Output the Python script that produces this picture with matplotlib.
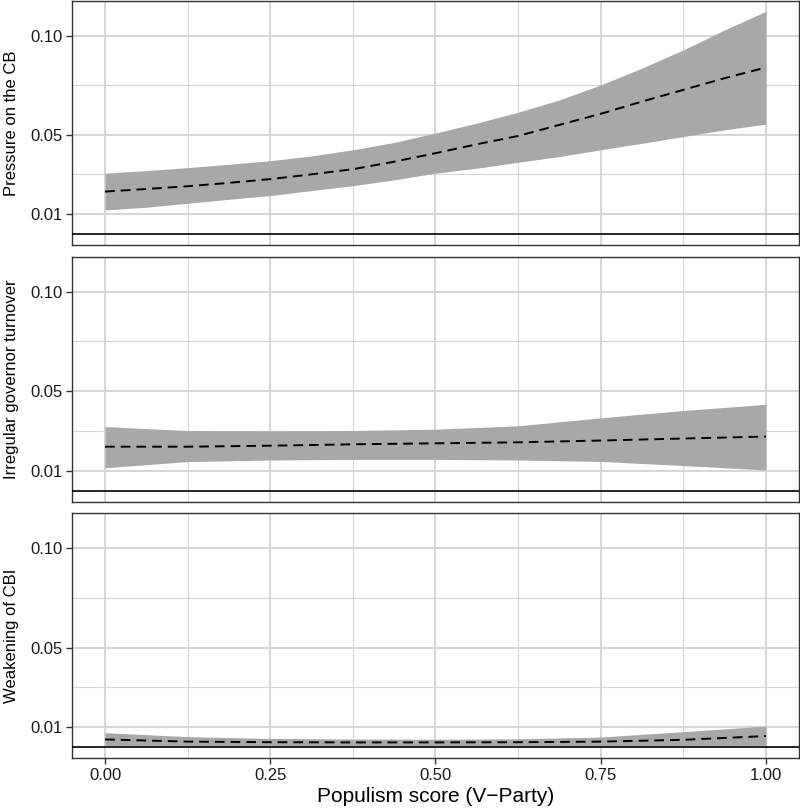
import matplotlib
matplotlib.use("Agg")
import matplotlib.pyplot as plt
from matplotlib.ticker import FixedLocator

plt.rcParams['font.family'] = ['Liberation Sans', 'DejaVu Sans']
plt.rcParams['lines.scale_dashes'] = False

# ---- data ----
x_fine = [0.0, 0.0625, 0.125, 0.1875, 0.25, 0.3125, 0.375, 0.4375, 0.5,
          0.5625, 0.625, 0.6875, 0.75, 0.8125, 0.875, 0.9375, 1.0]
x_vals = [0.0, 0.125, 0.25, 0.375, 0.5, 0.625, 0.75, 0.875, 1.0]

pressure_mean = [0.0213, 0.0226, 0.0240, 0.0257, 0.0276, 0.0300, 0.0326, 0.0364, 0.0407,
                 0.0452, 0.0494, 0.0550, 0.0606, 0.0668, 0.0727, 0.0786, 0.0840]
pressure_upper = [0.0306, 0.0319, 0.0334, 0.0351, 0.0369, 0.0393, 0.0424, 0.0461, 0.0509,
                  0.0559, 0.0614, 0.0676, 0.0752, 0.0837, 0.0929, 0.1030, 0.1124]
pressure_lower = [0.0120, 0.0134, 0.0154, 0.0174, 0.0193, 0.0218, 0.0243, 0.0272, 0.0306,
                  0.0331, 0.0361, 0.0390, 0.0424, 0.0457, 0.0491, 0.0525, 0.0554]

turnover_mean = [0.0221, 0.0221, 0.0226, 0.0233, 0.0238, 0.0243, 0.0252, 0.0262, 0.0272]
turnover_upper = [0.0322, 0.0302, 0.0301, 0.0302, 0.0309, 0.0326, 0.0366, 0.0403, 0.0434]
turnover_lower = [0.0115, 0.0146, 0.0154, 0.0157, 0.0157, 0.0154, 0.0147, 0.0126, 0.0104]

cbi_mean = [0.0038, 0.0027, 0.0024, 0.0023, 0.0023, 0.0024, 0.0027, 0.0036, 0.0055]
cbi_upper = [0.0072, 0.0052, 0.0043, 0.0040, 0.0039, 0.0041, 0.0050, 0.0077, 0.0105]
cbi_lower = [0.0008, 0.0006, 0.0006, 0.0006, 0.0006, 0.0006, 0.0006, 0.0006, 0.0008]

panel_labels = ["Pressure on the CB", "Irregular governor turnover", "Weakening of CBI"]
y_ticks = [0.01, 0.05, 0.10]
y_tick_labels = ["0.01", "0.05", "0.10"]
y_minor = [0.03, 0.075]
x_ticks = [0.0, 0.25, 0.5, 0.75, 1.0]
x_tick_labels = ["0.00", "0.25", "0.50", "0.75", "1.00"]
x_minor = [0.125, 0.375, 0.625, 0.875]
x_label = "Populism score (V\u2212Party)"

panels = [
    (x_fine, pressure_mean, pressure_lower, pressure_upper),
    (x_vals, turnover_mean, turnover_lower, turnover_upper),
    (x_vals, cbi_mean, cbi_lower, cbi_upper),
]

W, H = 800, 810
fig = plt.figure(figsize=(8, 8.1), dpi=100)

left_px, right_px = 72, 799
panel_px = [(1, 245), (256.7, 502), (513.3, 758.3)]

grid_col = '#d6d6d6'
for i, ((xs, m, lo, up), (t, b)) in enumerate(zip(panels, panel_px)):
    ax = fig.add_axes([left_px / W, 1 - b / H, (right_px - left_px) / W, (b - t) / H])
    ax.set_xlim(-0.05, 1.05)
    ax.set_ylim(-0.0057, 0.1176)
    ax.yaxis.set_major_locator(FixedLocator(y_ticks))
    ax.set_yticklabels(y_tick_labels)
    ax.yaxis.set_minor_locator(FixedLocator(y_minor))
    ax.xaxis.set_major_locator(FixedLocator(x_ticks))
    ax.xaxis.set_minor_locator(FixedLocator(x_minor))
    ax.grid(True, which='major', color=grid_col, lw=1.5, zorder=0)
    ax.grid(True, which='minor', color=grid_col, lw=0.8, zorder=0)
    ax.set_axisbelow(True)
    ax.fill_between(xs, lo, up, color='#a8a8a8', lw=0, zorder=2)
    ax.plot(xs, m, color='black', lw=1.4, dashes=(7, 4.3), zorder=3)
    ax.axhline(0, color='black', lw=1.2, zorder=4)
    for s in ax.spines.values():
        s.set_color('#333333')
        s.set_linewidth(1.0)
    ax.tick_params(axis='y', which='major', length=4, width=1.0, color='#333333',
                   labelsize=12, labelcolor='#1a1a1a', pad=3)
    ax.tick_params(which='minor', length=0)
    if i < 2:
        ax.tick_params(axis='x', which='major', length=0, labelbottom=False)
    else:
        ax.tick_params(axis='x', which='major', length=4, width=1.0, color='#333333',
                       labelsize=12, labelcolor='#1a1a1a', pad=3)
        ax.set_xticklabels(x_tick_labels)
        ax.set_xlabel(x_label, fontsize=15, color='black', labelpad=3)
    fig.text(12 / W, 1 - (t + b) / 2 / H, panel_labels[i], rotation=90, fontsize=12,
             ha='center', va='center', color='black')

fig.savefig("out.png", dpi=100)
